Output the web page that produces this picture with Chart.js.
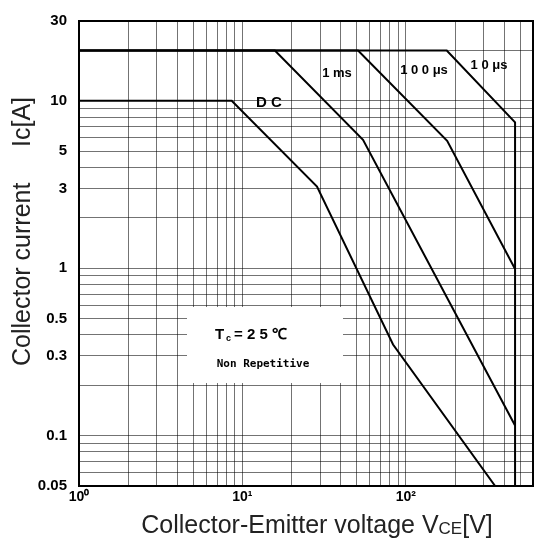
<!DOCTYPE html>
<html><head><meta charset="utf-8">
<script src="https://cdn.jsdelivr.net/npm/chart.js@4"></script>
<style>html,body{margin:0;padding:0;background:#fff}#wrap{width:537px;height:541px}</style>
</head><body><div id="wrap"><canvas id="c" width="537" height="541"></canvas></div>
<script>
// Data (Vce [V], Ic [A])
const dcV = [1, 8.6, 28.6, 83.5, 352];
const dcI = [10, 10, 3.08, 0.35, 0.05];
const ms1V = [1, 15.8, 54.7, 466];
const ms1I = [20, 20, 5.85, 0.115];
const us100V = [1, 51, 179, 466];
const us100I = [20, 20, 5.77, 0.99];
const us10V = [1, 178, 466, 466];
const us10I = [20, 20, 7.44, 0.05];

const xTicks = [1,2,3,4,5,6,7,8,9,10,20,30,40,50,60,70,80,90,100,200,300,400,500,600];
const xLabels = {1:'10⁰', 10:'10¹', 100:'10²'};
const yTicks = [0.05,0.06,0.07,0.08,0.09,0.1,0.2,0.3,0.4,0.5,0.6,0.7,0.8,0.9,1,2,3,4,5,6,7,8,9,10,20,30];
const yLabels = {30:'30',10:'10',5:'5',3:'3',1:'1',0.5:'0.5',0.3:'0.3',0.1:'0.1',0.05:'0.05'};

const pts = (xs, ys) => xs.map((x, i) => ({x, y: ys[i]}));
const ds = (label, xs, ys) => ({label, data: pts(xs, ys), showLine: true, borderColor: '#000', borderWidth: 2, pointRadius: 0, tension: 0});

const deco = {
  id: 'deco',
  beforeDatasetsDraw(chart) {
    const c = chart.ctx;
    c.save();
    c.fillStyle = '#fff';
    c.fillRect(187, 307, 156, 76);
    c.restore();
  },
  afterDraw(chart) {
    const c = chart.ctx, a = chart.chartArea;
    c.save();
    c.strokeStyle = '#000'; c.lineWidth = 2;
    c.strokeRect(a.left, a.top, a.right - a.left, a.bottom - a.top);
    c.fillStyle = '#000';
    c.textBaseline = 'middle'; c.textAlign = 'center';
    c.font = 'bold 15px "Liberation Sans", Arial';
    c.fillText('D C', 269, 103);
    c.font = 'bold 13px "Liberation Sans", Arial';
    c.fillText('1 ms', 337, 73);
    c.fillText('1 0 0 μs', 424, 70);
    c.fillText('1 0 μs', 489, 65);
    // Tc = 25 C
    c.textAlign = 'left';
    c.font = 'bold 15px "Liberation Sans", Arial';
    c.fillText('T', 215, 335);
    c.font = 'bold 9px "Liberation Sans", Arial';
    c.fillText('c', 226, 339);
    c.font = 'bold 15px "Liberation Sans", Arial';
    c.fillText('= 2 5 ℃', 234, 335);
    c.textAlign = 'center';
    c.font = 'bold 11px "DejaVu Sans Mono", monospace';
    c.fillText('Non Repetitive', 263, 364);
    // y title
    c.save();
    c.translate(23, 366);
    c.rotate(-Math.PI / 2);
    c.textAlign = 'left';
    c.fillStyle = '#222';
    c.font = '25px "Liberation Sans", Arial';
    c.fillText('Collector current', 0, 0);
    c.fillText('Ic[A]', 219, 0);
    c.restore();
    // x title
    c.textAlign = 'left';
    c.fillStyle = '#222';
    c.font = '25px "Liberation Sans", Arial';
    const t1 = 'Collector-Emitter voltage V', t3 = '[V]';
    const w1 = c.measureText(t1).width, w3 = c.measureText(t3).width;
    c.font = '17px "Liberation Sans", Arial';
    const w2 = c.measureText('CE').width;
    let x0 = 317 - (w1 + w2 + w3) / 2;
    c.font = '25px "Liberation Sans", Arial';
    c.fillText(t1, x0, 526);
    c.font = '17px "Liberation Sans", Arial';
    c.fillText('CE', x0 + w1, 529);
    c.font = '25px "Liberation Sans", Arial';
    c.fillText(t3, x0 + w1 + w2, 526);
    c.restore();
  }
};

new Chart(document.getElementById('c'), {
  type: 'scatter',
  data: { datasets: [ds('DC', dcV, dcI), ds('1ms', ms1V, ms1I), ds('100us', us100V, us100I), ds('10us', us10V, us10I)] },
  options: {
    responsive: false, animation: false,
    layout: { padding: { top: 16, right: 4, left: 0, bottom: 0 } },
    plugins: { legend: { display: false }, tooltip: { enabled: false } },
    scales: {
      x: {
        type: 'logarithmic', min: 1, max: 600,
        afterBuildTicks: s => { s.ticks = xTicks.map(v => ({value: v})); },
        afterFit: s => { s.height = 55; },
        ticks: { autoSkip: false, maxRotation: 0, padding: 3, color: '#000',
          font: { family: '"Liberation Sans Narrow", "Liberation Sans", Arial', size: 14, weight: 'bold' },
          callback: v => xLabels[v] || '' },
        grid: { color: 'rgba(0,0,0,0.55)', lineWidth: 1, drawTicks: false },
        border: { display: true, color: '#000', width: 2 }
      },
      y: {
        type: 'logarithmic', min: 0.05, max: 30,
        afterBuildTicks: s => { s.ticks = yTicks.map(v => ({value: v})); },
        afterFit: s => { s.width = 79; },
        ticks: { autoSkip: false, padding: 12, color: '#000',
          font: { family: '"Liberation Sans Narrow", "Liberation Sans", Arial', size: 15, weight: 'bold' },
          callback: v => yLabels[v] || '' },
        grid: { color: 'rgba(0,0,0,0.55)', lineWidth: 1, drawTicks: false },
        border: { display: true, color: '#000', width: 2 }
      }
    }
  },
  plugins: [deco]
});
</script></body></html>
